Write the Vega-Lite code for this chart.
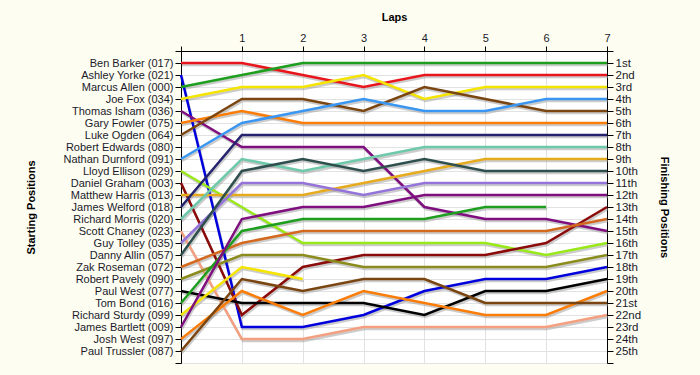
{
  "$schema": "https://vega.github.io/schema/vega-lite/v6.json",
  "width": 426,
  "height": 312,
  "autosize": "none",
  "padding": {"left": 181, "top": 51, "right": 93, "bottom": 12},
  "background": "#fdfdf2",
  "config": {
    "view": {"stroke": null, "fill": "#ffffff"},
    "axis": {
      "labelFont": "Liberation Sans", "labelFontSize": 11, "labelColor": "#1a1a2a",
      "titleFont": "Liberation Sans", "titleFontSize": 11, "titleFontWeight": "bold", "titleColor": "#000000",
      "domainColor": "#000000", "tickColor": "#000000", "tickSize": 6, "labelPadding": 2,
      "gridColor": "#e2e2e2", "gridWidth": 1
    }
  },
  "data": {"values": [
    {"d":"Ben Barker (017)","l":0,"p":1},{"d":"Ben Barker (017)","l":1,"p":1},{"d":"Ben Barker (017)","l":2,"p":2},{"d":"Ben Barker (017)","l":3,"p":3},{"d":"Ben Barker (017)","l":4,"p":2},{"d":"Ben Barker (017)","l":5,"p":2},{"d":"Ben Barker (017)","l":6,"p":2},{"d":"Ben Barker (017)","l":7,"p":2},
    {"d":"Ashley Yorke (021)","l":0,"p":2},{"d":"Ashley Yorke (021)","l":1,"p":23},{"d":"Ashley Yorke (021)","l":2,"p":23},{"d":"Ashley Yorke (021)","l":3,"p":22},{"d":"Ashley Yorke (021)","l":4,"p":20},{"d":"Ashley Yorke (021)","l":5,"p":19},{"d":"Ashley Yorke (021)","l":6,"p":19},{"d":"Ashley Yorke (021)","l":7,"p":18},
    {"d":"Marcus Allen (000)","l":0,"p":3},{"d":"Marcus Allen (000)","l":1,"p":2},{"d":"Marcus Allen (000)","l":2,"p":1},{"d":"Marcus Allen (000)","l":3,"p":1},{"d":"Marcus Allen (000)","l":4,"p":1},{"d":"Marcus Allen (000)","l":5,"p":1},{"d":"Marcus Allen (000)","l":6,"p":1},{"d":"Marcus Allen (000)","l":7,"p":1},
    {"d":"Joe Fox (034)","l":0,"p":4},{"d":"Joe Fox (034)","l":1,"p":3},{"d":"Joe Fox (034)","l":2,"p":3},{"d":"Joe Fox (034)","l":3,"p":2},{"d":"Joe Fox (034)","l":4,"p":4},{"d":"Joe Fox (034)","l":5,"p":3},{"d":"Joe Fox (034)","l":6,"p":3},{"d":"Joe Fox (034)","l":7,"p":3},
    {"d":"Thomas Isham (036)","l":0,"p":5},{"d":"Thomas Isham (036)","l":1,"p":8},{"d":"Thomas Isham (036)","l":2,"p":8},{"d":"Thomas Isham (036)","l":3,"p":8},{"d":"Thomas Isham (036)","l":4,"p":13},{"d":"Thomas Isham (036)","l":5,"p":14},{"d":"Thomas Isham (036)","l":6,"p":14},{"d":"Thomas Isham (036)","l":7,"p":15},
    {"d":"Gary Fowler (075)","l":0,"p":6},{"d":"Gary Fowler (075)","l":1,"p":5},{"d":"Gary Fowler (075)","l":2,"p":6},{"d":"Gary Fowler (075)","l":3,"p":6},{"d":"Gary Fowler (075)","l":4,"p":6},{"d":"Gary Fowler (075)","l":5,"p":6},{"d":"Gary Fowler (075)","l":6,"p":6},{"d":"Gary Fowler (075)","l":7,"p":6},
    {"d":"Luke Ogden (064)","l":0,"p":7},{"d":"Luke Ogden (064)","l":1,"p":4},{"d":"Luke Ogden (064)","l":2,"p":4},{"d":"Luke Ogden (064)","l":3,"p":5},{"d":"Luke Ogden (064)","l":4,"p":3},{"d":"Luke Ogden (064)","l":5,"p":4},{"d":"Luke Ogden (064)","l":6,"p":5},{"d":"Luke Ogden (064)","l":7,"p":5},
    {"d":"Nathan Durnford (091)","l":0,"p":9},{"d":"Nathan Durnford (091)","l":1,"p":6},{"d":"Nathan Durnford (091)","l":2,"p":5},{"d":"Nathan Durnford (091)","l":3,"p":4},{"d":"Nathan Durnford (091)","l":4,"p":5},{"d":"Nathan Durnford (091)","l":5,"p":5},{"d":"Nathan Durnford (091)","l":6,"p":4},{"d":"Nathan Durnford (091)","l":7,"p":4},
    {"d":"Lloyd Ellison (029)","l":0,"p":10},{"d":"Lloyd Ellison (029)","l":1,"p":13},{"d":"Lloyd Ellison (029)","l":2,"p":16},{"d":"Lloyd Ellison (029)","l":3,"p":16},{"d":"Lloyd Ellison (029)","l":4,"p":16},{"d":"Lloyd Ellison (029)","l":5,"p":16},{"d":"Lloyd Ellison (029)","l":6,"p":17},{"d":"Lloyd Ellison (029)","l":7,"p":16},
    {"d":"Daniel Graham (003)","l":0,"p":11},{"d":"Daniel Graham (003)","l":1,"p":22},{"d":"Daniel Graham (003)","l":2,"p":18},{"d":"Daniel Graham (003)","l":3,"p":17},{"d":"Daniel Graham (003)","l":4,"p":17},{"d":"Daniel Graham (003)","l":5,"p":17},{"d":"Daniel Graham (003)","l":6,"p":16},{"d":"Daniel Graham (003)","l":7,"p":13},
    {"d":"Matthew Harris (013)","l":0,"p":12},{"d":"Matthew Harris (013)","l":1,"p":12},{"d":"Matthew Harris (013)","l":2,"p":12},{"d":"Matthew Harris (013)","l":3,"p":11},{"d":"Matthew Harris (013)","l":4,"p":10},{"d":"Matthew Harris (013)","l":5,"p":9},{"d":"Matthew Harris (013)","l":6,"p":9},{"d":"Matthew Harris (013)","l":7,"p":9},
    {"d":"James Welford (018)","l":0,"p":13},{"d":"James Welford (018)","l":1,"p":7},{"d":"James Welford (018)","l":2,"p":7},{"d":"James Welford (018)","l":3,"p":7},{"d":"James Welford (018)","l":4,"p":7},{"d":"James Welford (018)","l":5,"p":7},{"d":"James Welford (018)","l":6,"p":7},{"d":"James Welford (018)","l":7,"p":7},
    {"d":"Richard Morris (020)","l":0,"p":14},{"d":"Richard Morris (020)","l":1,"p":9},{"d":"Richard Morris (020)","l":2,"p":10},{"d":"Richard Morris (020)","l":3,"p":9},{"d":"Richard Morris (020)","l":4,"p":8},{"d":"Richard Morris (020)","l":5,"p":8},{"d":"Richard Morris (020)","l":6,"p":8},{"d":"Richard Morris (020)","l":7,"p":8},
    {"d":"Scott Chaney (023)","l":0,"p":15},{"d":"Scott Chaney (023)","l":1,"p":24},{"d":"Scott Chaney (023)","l":2,"p":24},{"d":"Scott Chaney (023)","l":3,"p":23},{"d":"Scott Chaney (023)","l":4,"p":23},{"d":"Scott Chaney (023)","l":5,"p":23},{"d":"Scott Chaney (023)","l":6,"p":23},{"d":"Scott Chaney (023)","l":7,"p":22},
    {"d":"Guy Tolley (035)","l":0,"p":16},{"d":"Guy Tolley (035)","l":1,"p":11},{"d":"Guy Tolley (035)","l":2,"p":11},{"d":"Guy Tolley (035)","l":3,"p":12},{"d":"Guy Tolley (035)","l":4,"p":11},{"d":"Guy Tolley (035)","l":5,"p":11},{"d":"Guy Tolley (035)","l":6,"p":11},{"d":"Guy Tolley (035)","l":7,"p":11},
    {"d":"Danny Allin (057)","l":0,"p":17},{"d":"Danny Allin (057)","l":1,"p":10},{"d":"Danny Allin (057)","l":2,"p":9},{"d":"Danny Allin (057)","l":3,"p":10},{"d":"Danny Allin (057)","l":4,"p":9},{"d":"Danny Allin (057)","l":5,"p":10},{"d":"Danny Allin (057)","l":6,"p":10},{"d":"Danny Allin (057)","l":7,"p":10},
    {"d":"Zak Roseman (072)","l":0,"p":18},{"d":"Zak Roseman (072)","l":1,"p":16},{"d":"Zak Roseman (072)","l":2,"p":15},{"d":"Zak Roseman (072)","l":3,"p":15},{"d":"Zak Roseman (072)","l":4,"p":15},{"d":"Zak Roseman (072)","l":5,"p":15},{"d":"Zak Roseman (072)","l":6,"p":15},{"d":"Zak Roseman (072)","l":7,"p":14},
    {"d":"Robert Pavely (090)","l":0,"p":19},{"d":"Robert Pavely (090)","l":1,"p":17},{"d":"Robert Pavely (090)","l":2,"p":17},{"d":"Robert Pavely (090)","l":3,"p":18},{"d":"Robert Pavely (090)","l":4,"p":18},{"d":"Robert Pavely (090)","l":5,"p":18},{"d":"Robert Pavely (090)","l":6,"p":18},{"d":"Robert Pavely (090)","l":7,"p":17},
    {"d":"Paul West (077)","l":0,"p":20},{"d":"Paul West (077)","l":1,"p":21},{"d":"Paul West (077)","l":2,"p":21},{"d":"Paul West (077)","l":3,"p":21},{"d":"Paul West (077)","l":4,"p":22},{"d":"Paul West (077)","l":5,"p":20},{"d":"Paul West (077)","l":6,"p":20},{"d":"Paul West (077)","l":7,"p":19},
    {"d":"Tom Bond (016)","l":0,"p":21},{"d":"Tom Bond (016)","l":1,"p":15},{"d":"Tom Bond (016)","l":2,"p":14},{"d":"Tom Bond (016)","l":3,"p":14},{"d":"Tom Bond (016)","l":4,"p":14},{"d":"Tom Bond (016)","l":5,"p":13},{"d":"Tom Bond (016)","l":6,"p":13},
    {"d":"Richard Sturdy (099)","l":0,"p":22},{"d":"Richard Sturdy (099)","l":1,"p":18},{"d":"Richard Sturdy (099)","l":2,"p":19},
    {"d":"James Bartlett (009)","l":0,"p":23},{"d":"James Bartlett (009)","l":1,"p":14},{"d":"James Bartlett (009)","l":2,"p":13},{"d":"James Bartlett (009)","l":3,"p":13},{"d":"James Bartlett (009)","l":4,"p":12},{"d":"James Bartlett (009)","l":5,"p":12},{"d":"James Bartlett (009)","l":6,"p":12},{"d":"James Bartlett (009)","l":7,"p":12},
    {"d":"Josh West (097)","l":0,"p":24},{"d":"Josh West (097)","l":1,"p":20},{"d":"Josh West (097)","l":2,"p":22},{"d":"Josh West (097)","l":3,"p":20},{"d":"Josh West (097)","l":4,"p":21},{"d":"Josh West (097)","l":5,"p":22},{"d":"Josh West (097)","l":6,"p":22},{"d":"Josh West (097)","l":7,"p":20},
    {"d":"Paul Trussler (087)","l":0,"p":25},{"d":"Paul Trussler (087)","l":1,"p":19},{"d":"Paul Trussler (087)","l":2,"p":20},{"d":"Paul Trussler (087)","l":3,"p":19},{"d":"Paul Trussler (087)","l":4,"p":19},{"d":"Paul Trussler (087)","l":5,"p":21},{"d":"Paul Trussler (087)","l":6,"p":21},{"d":"Paul Trussler (087)","l":7,"p":21}
  ]},
  "encoding": {
    "x": {"field": "l", "type": "quantitative", "scale": {"domain": [0, 7], "nice": false, "zero": false},
      "axis": {"orient": "top", "title": "Laps", "values": [0,1,2,3,4,5,6,7], "labelExpr": "datum.value == 0 ? '' : datum.label", "grid": true, "titlePadding": 10, "labelFlush": false, "tickSize": 5, "labelPadding": 3}}
  },
  "layer": [
    {
      "mark": {"type": "line", "stroke": "#9a9a9a", "strokeWidth": 2.5, "yOffset": 2, "xOffset": 1, "opacity": 0.5},
      "encoding": {
        "y": {"field": "p", "type": "quantitative", "scale": {"domain": [0, 26], "reverse": true, "nice": false, "zero": false},
          "axis": {"orient": "left", "title": "Starting Positions", "values": [0,1,2,3,4,5,6,7,8,9,10,11,12,13,14,15,16,17,18,19,20,21,22,23,24,25,26],
            "labelExpr": "['', 'Ben Barker (017)', 'Ashley Yorke (021)', 'Marcus Allen (000)', 'Joe Fox (034)', 'Thomas Isham (036)', 'Gary Fowler (075)', 'Luke Ogden (064)', 'Robert Edwards (080)', 'Nathan Durnford (091)', 'Lloyd Ellison (029)', 'Daniel Graham (003)', 'Matthew Harris (013)', 'James Welford (018)', 'Richard Morris (020)', 'Scott Chaney (023)', 'Guy Tolley (035)', 'Danny Allin (057)', 'Zak Roseman (072)', 'Robert Pavely (090)', 'Paul West (077)', 'Tom Bond (016)', 'Richard Sturdy (099)', 'James Bartlett (009)', 'Josh West (097)', 'Paul Trussler (087)', ''][datum.value]",
            "grid": true, "titlePadding": 26, "labelFlush": false, "labelOverlap": false}},
        "detail": {"field": "d", "type": "nominal"}
      }
    },
    {
      "mark": {"type": "line", "strokeWidth": 2.5},
      "encoding": {
        "y": {"field": "p", "type": "quantitative", "scale": {"domain": [0, 26], "reverse": true, "nice": false, "zero": false},
          "axis": {"orient": "right", "title": "Finishing Positions", "values": [0,1,2,3,4,5,6,7,8,9,10,11,12,13,14,15,16,17,18,19,20,21,22,23,24,25,26],
            "labelExpr": "['', '1st', '2nd', '3rd', '4th', '5th', '6th', '7th', '8th', '9th', '10th', '11th', '12th', '13th', '14th', '15th', '16th', '17th', '18th', '19th', '20th', '21st', '22nd', '23rd', '24th', '25th', ''][datum.value]",
            "grid": false, "titlePadding": 18, "labelFlush": false, "labelOverlap": false, "labelFontSize": 11.5}},
        "color": {"field": "d", "type": "nominal", "legend": null,
          "scale": {
            "domain": ["Ben Barker (017)", "Ashley Yorke (021)", "Marcus Allen (000)", "Joe Fox (034)", "Thomas Isham (036)", "Gary Fowler (075)", "Luke Ogden (064)", "Nathan Durnford (091)", "Lloyd Ellison (029)", "Daniel Graham (003)", "Matthew Harris (013)", "James Welford (018)", "Richard Morris (020)", "Scott Chaney (023)", "Guy Tolley (035)", "Danny Allin (057)", "Zak Roseman (072)", "Robert Pavely (090)", "Paul West (077)", "Tom Bond (016)", "Richard Sturdy (099)", "James Bartlett (009)", "Josh West (097)", "Paul Trussler (087)"],
            "range": ["#e8161c", "#0000dd", "#1e9e1e", "#f5e400", "#7f0f7f", "#fa7d0a", "#7a4510", "#3a96f0", "#99e81a", "#8b0a0a", "#e6aa1e", "#23236e", "#6ec8aa", "#f4a080", "#9474d8", "#2f4f4f", "#d2691e", "#8c8c1e", "#000000", "#1e9e1e", "#f5e400", "#7f0f7f", "#fa7d0a", "#7a4510"]
          }}
      }
    }
  ],
  "resolve": {"axis": {"y": "independent"}}
}
